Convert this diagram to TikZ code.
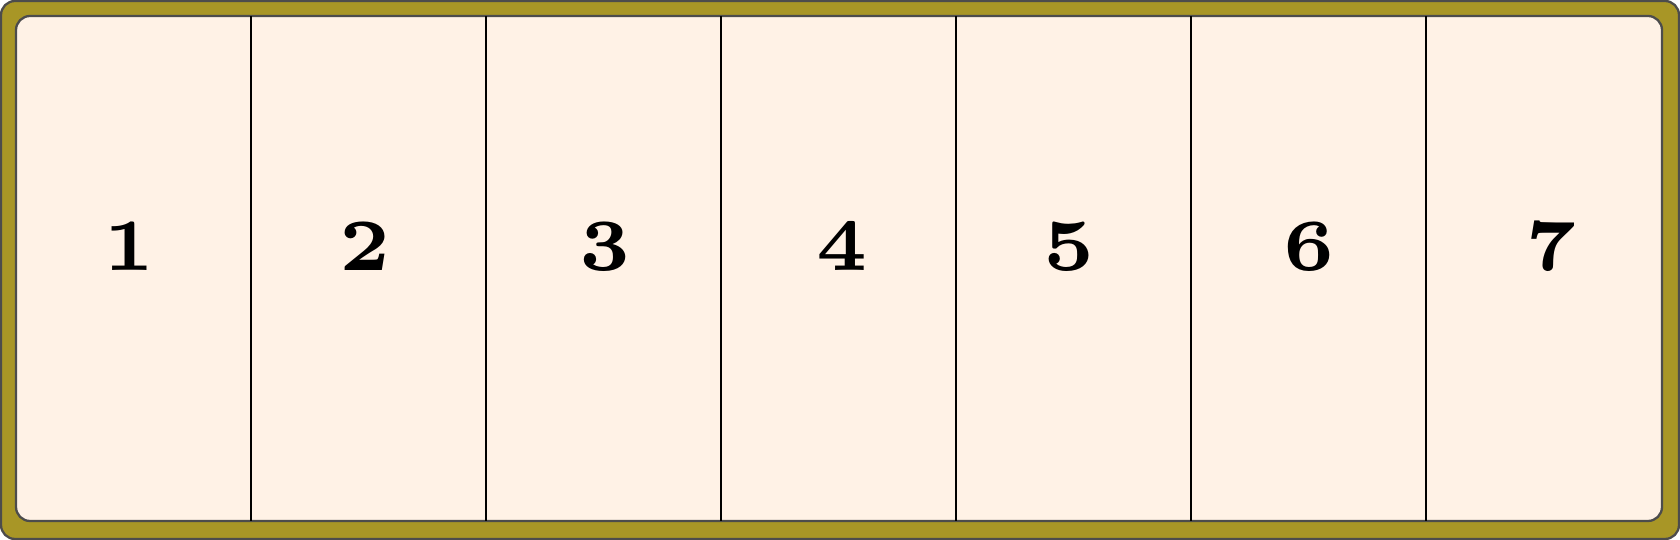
\documentclass[tikz,border=0pt]{standalone}
\usepackage{amsmath}
\usepackage{tikz}
\definecolor{frameolive}{RGB}{168,150,38}
\definecolor{cellcream}{RGB}{255,242,230}
\newcommand{\bignum}[1]{\scalebox{3.5}{\fontsize{6}{7}\selectfont\bfseries #1}}
\tikzset{
  rimline/.style={draw=black!70, line width=0.65pt, rounded corners},
  cellsep/.style={line width=0.65pt},
  cellnum/.style={anchor=base, inner sep=0pt}
}
\begin{document}
\begin{tikzpicture}[scale=1]
\useasboundingbox (0,0) rectangle (16.8,5.4);
\draw[rimline, fill=frameolive] (0.01,0.01) rectangle (16.79,5.39);
\draw[rimline, fill=cellcream] (0.16,0.19) rectangle (16.62,5.24);
\draw[cellsep] (2.51,0.19) -- (2.51,5.24);
\draw[cellsep] (4.86,0.19) -- (4.86,5.24);
\draw[cellsep] (7.21,0.19) -- (7.21,5.24);
\draw[cellsep] (9.56,0.19) -- (9.56,5.24);
\draw[cellsep] (11.91,0.19) -- (11.91,5.24);
\draw[cellsep] (14.26,0.19) -- (14.26,5.24);
\node (one) at (1.295,2.69) [cellnum] {\bignum{1}};
\node (two) at (3.65,2.69) [cellnum] {\bignum{2}};
\node (three) at (6.05,2.69) [cellnum] {\bignum{3}};
\node (four) at (8.425,2.69) [cellnum] {\bignum{4}};
\node (five) at (10.69,2.69) [cellnum] {\bignum{5}};
\node (six) at (13.09,2.69) [cellnum] {\bignum{6}};
\node (seven) at (15.51,2.69) [cellnum] {\bignum{7}};
\end{tikzpicture}
\end{document}
